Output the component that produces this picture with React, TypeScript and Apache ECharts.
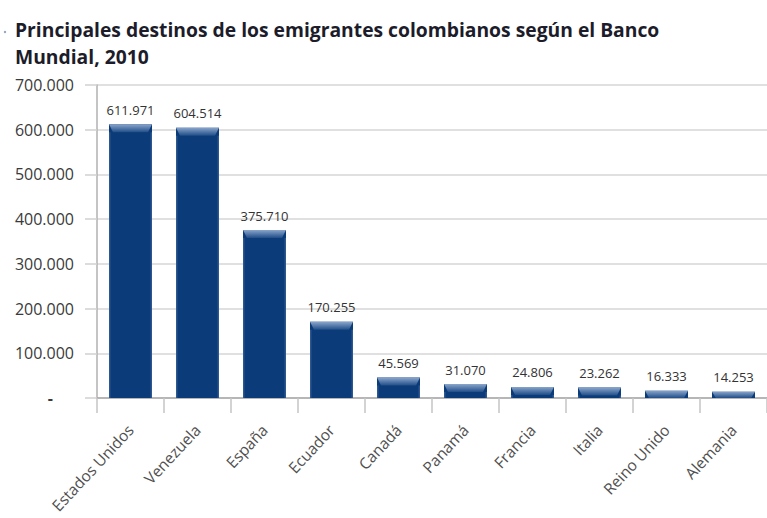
import React, { useEffect, useRef } from "react";
import * as echarts from "echarts";

const titleLines = [
  "Principales destinos de los emigrantes colombianos según el Banco",
  "Mundial, 2010",
];
const categories = [
  "Estados Unidos",
  "Venezuela",
  "España",
  "Ecuador",
  "Canadá",
  "Panamá",
  "Francia",
  "Italia",
  "Reino Unido",
  "Alemania",
];
const values = [611971, 604514, 375710, 170255, 45569, 31070, 24806, 23262, 16333, 14253];
const yMin = 0;
const yMax = 700000;
const yInterval = 100000;

const fmt = (v: number) => String(Math.round(v)).replace(/\B(?=(\d{3})+(?!\d))/g, ".");

export default function App() {
  const ref = useRef<HTMLDivElement>(null);
  useEffect(() => {
    if (!ref.current) return;
    const chart = echarts.init(ref.current, null, { renderer: "svg" });
    const barW = 43;
    chart.setOption({
      animation: false,
      backgroundColor: "#ffffff",
      textStyle: { fontFamily: "Open Sans" },
      graphic: [
        {
          type: "circle",
          shape: { cx: 5, cy: 32, r: 1.2 },
          style: { fill: "#8fa3c4" },
        },
        {
          type: "text",
          left: 15,
          top: 16,
          style: {
            text: titleLines.join("\n"),
            fontFamily: "Open Sans",
            fontWeight: "bold",
            fontSize: 19.3,
            lineHeight: 27,
            fill: "#1c1c2a",
          },
        },
      ],
      grid: { left: 97, top: 85, width: 678, height: 313, containLabel: false },
      xAxis: {
        type: "category",
        data: categories,
        boundaryGap: true,
        axisLine: { show: true, lineStyle: { color: "#a8a8a8", width: 1.5 } },
        axisTick: { show: true, length: 15, lineStyle: { color: "#c4c4c4", width: 1.5 } },
        axisLabel: {
          interval: 0,
          rotate: 47,
          margin: 29,
          fontSize: 15.5,
          color: "#505050",
          fontFamily: "Open Sans",
        },
        splitLine: { show: false },
      },
      yAxis: {
        type: "value",
        min: yMin,
        max: yMax,
        interval: yInterval,
        axisLine: { show: true, lineStyle: { color: "#b0b0b0", width: 1.5 } },
        axisTick: { show: true, inside: false, length: 12, lineStyle: { color: "#d0d0d0", width: 1.5 } },
        splitLine: { show: true, lineStyle: { color: "#d6d6d6", width: 1.5 } },
        axisLabel: {
          margin: 23,
          fontSize: 16,
          color: "#3a3a3a",
          fontFamily: "Open Sans",
          formatter: (v: number) => (v === 0 ? "{d|-}" : fmt(v)),
          rich: {
            d: { fontSize: 16, fontWeight: "bold", color: "#3a3a3a", padding: [0, 21, 0, 0] },
          },
        },
      },
      series: [
        {
          type: "bar",
          data: values,
          barWidth: barW,
          itemStyle: { color: "#0b3b78" },
          label: {
            show: true,
            position: "top",
            distance: 8,
            fontSize: 13,
            color: "#333333",
            fontFamily: "Open Sans",
            formatter: (p: any) => fmt(p.value),
          },
          z: 2,
        },
        {
          type: "custom",
          data: values.map((v, i) => [i, v]),
          encode: { x: 0, y: 1 },
          z: 3,
          silent: true,
          renderItem: (params: any, api: any) => {
            const i = api.value(0);
            const v = api.value(1);
            const top = api.coord([i, v]);
            const bot = api.coord([i, 0]);
            const x0 = top[0] - barW / 2;
            const x1 = top[0] + barW / 2;
            const h = Math.min(8, bot[1] - top[1]);
            const inset = Math.min(4, h * 0.6);
            return {
              type: "group",
              children: [
                {
                  type: "polygon",
                  shape: {
                    points: [
                      [x0, top[1]],
                      [x1, top[1]],
                      [x1 - inset, top[1] + h],
                      [x0 + inset, top[1] + h],
                    ],
                  },
                  style: {
                    fill: new echarts.graphic.LinearGradient(0, 0, 0, 1, [
                      { offset: 0, color: "#8aa5cb" },
                      { offset: 1, color: "#1f4d88" },
                    ]),
                  },
                },
                {
                  type: "rect",
                  shape: { x: x0, y: top[1] + h, width: 1.5, height: Math.max(0, bot[1] - top[1] - h) },
                  style: { fill: "#2c578f" },
                },
                {
                  type: "rect",
                  shape: { x: x1 - 1.5, y: top[1] + h, width: 1.5, height: Math.max(0, bot[1] - top[1] - h) },
                  style: { fill: "#2c578f" },
                },
              ],
            };
          },
        },
      ],
    });
    return () => chart.dispose();
  }, []);
  return (
    <div
      ref={ref}
      style={{ position: "absolute", left: 0, top: 0, width: 767, height: 518 }}
    />
  );
}
